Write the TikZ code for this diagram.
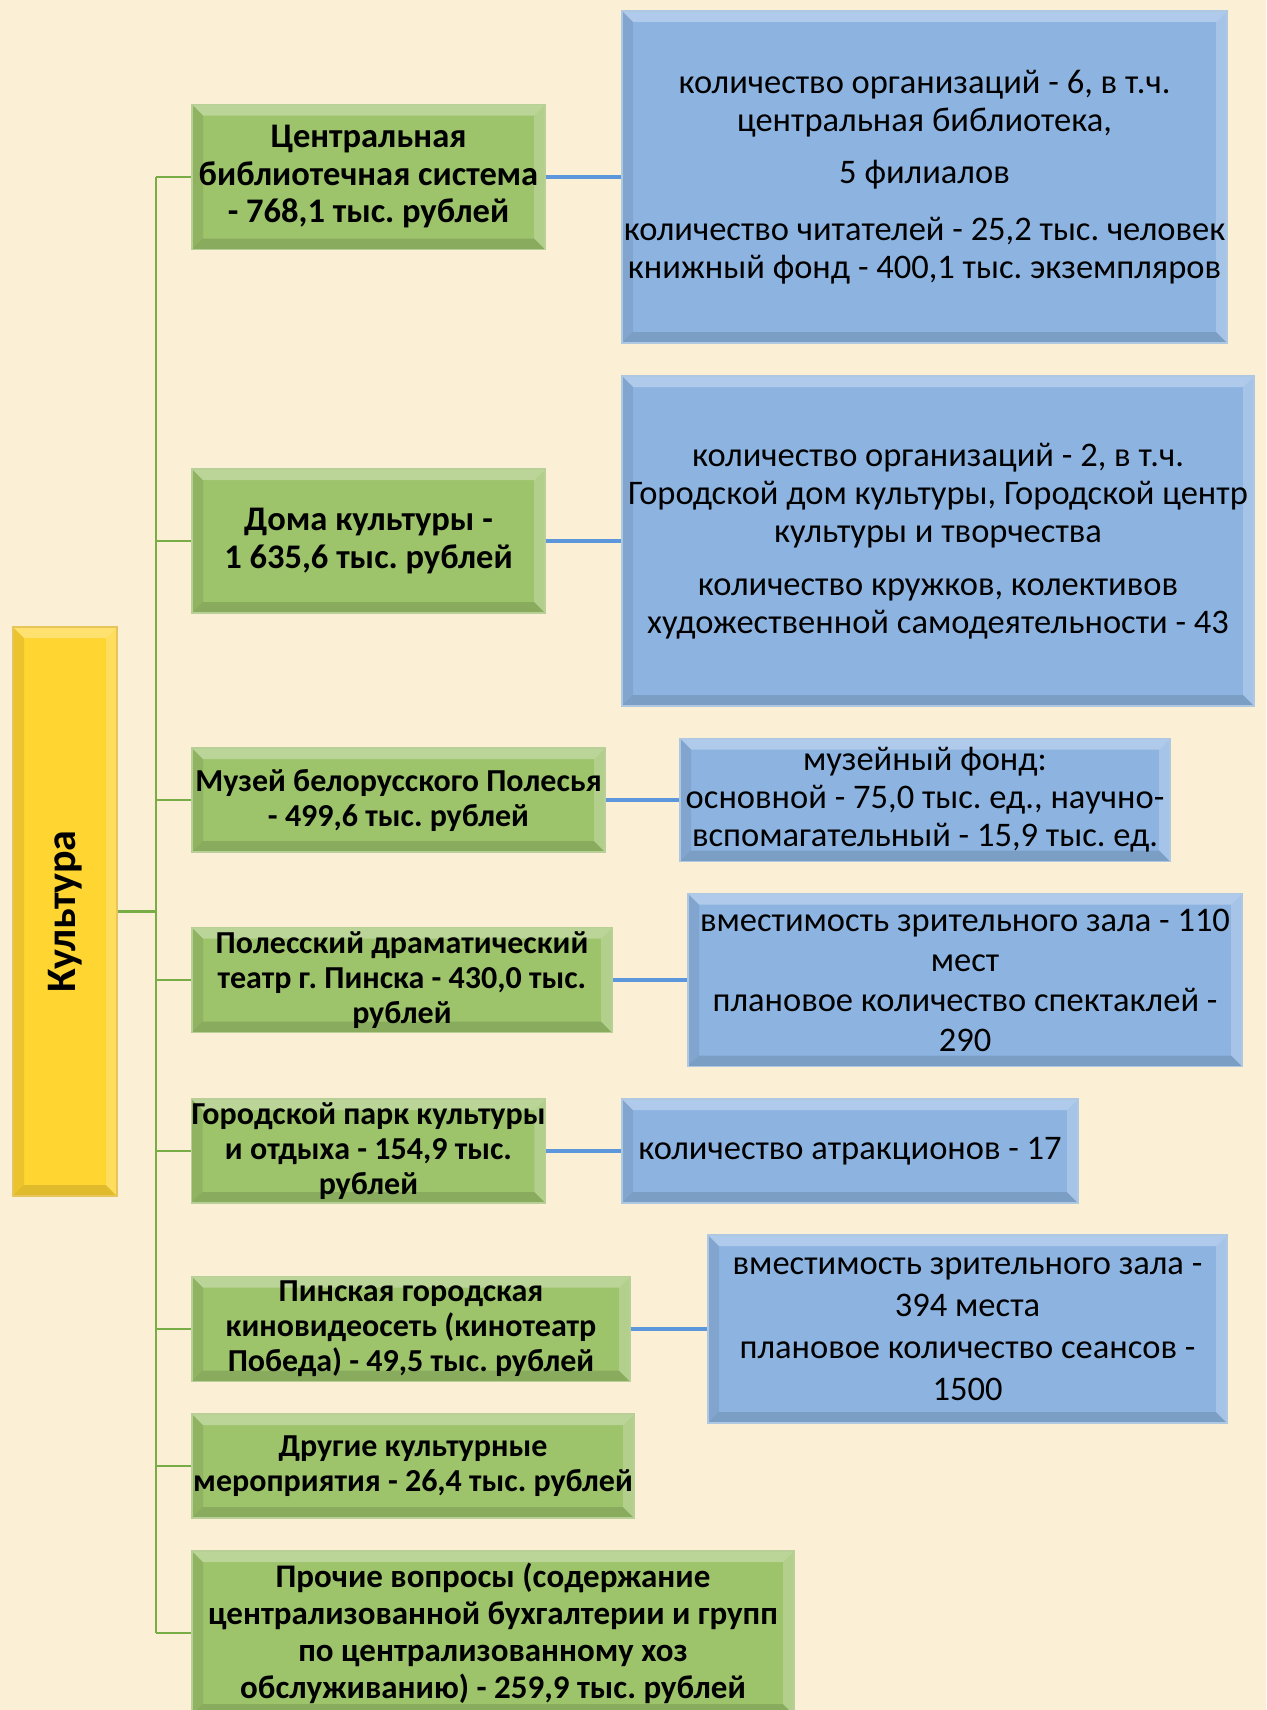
\documentclass[tikz,border=0pt]{standalone}
\usepackage{fontspec}
\setmainfont{Carlito}
\usepackage{xcolor}
\frenchspacing

\definecolor{bgcream}{HTML}{FBF0D6}
\definecolor{boxgreen}{HTML}{9DC36B}
\definecolor{rimgreen}{HTML}{B9CF98}
\definecolor{boxblue}{HTML}{8DB4E1}
\definecolor{rimblue}{HTML}{AFC8E2}
\definecolor{boxgold}{HTML}{FFD531}
\definecolor{rimgold}{HTML}{E8C55A}
\definecolor{linegreen}{HTML}{78AC44}
\definecolor{lineblue}{HTML}{5B97DA}

\tikzset{
  bevel/.style={path picture={
    \fill[white,opacity=.3] (path picture bounding box.north west) -- (path picture bounding box.north east)
      -- ([xshift=-11pt,yshift=-11pt]path picture bounding box.north east) -- ([xshift=11pt,yshift=-11pt]path picture bounding box.north west) -- cycle;
    \fill[white,opacity=.22] (path picture bounding box.north east) -- (path picture bounding box.south east)
      -- ([xshift=-11pt,yshift=11pt]path picture bounding box.south east) -- ([xshift=-11pt,yshift=-11pt]path picture bounding box.north east) -- cycle;
    \fill[black,opacity=.12] (path picture bounding box.south west) -- (path picture bounding box.south east)
      -- ([xshift=-11pt,yshift=11pt]path picture bounding box.south east) -- ([xshift=11pt,yshift=11pt]path picture bounding box.south west) -- cycle;
    \fill[black,opacity=.08] (path picture bounding box.north west) -- (path picture bounding box.south west)
      -- ([xshift=11pt,yshift=11pt]path picture bounding box.south west) -- ([xshift=11pt,yshift=-11pt]path picture bounding box.north west) -- cycle;
  }},
  box/.style={draw, line width=1.2pt, align=center, inner sep=0pt, bevel},
  gbox/.style={box, fill=boxgreen, draw=rimgreen, font=\bfseries\fontsize{32}{35}\selectfont},
  bbox/.style={box, fill=boxblue, draw=rimblue, font=\fontsize{34.5}{38}\selectfont},
  ybox/.style={box, fill=boxgold, draw=rimgold, font=\bfseries\fontsize{42}{44}\selectfont},
  gline/.style={draw=linegreen, line width=2.5pt},
  bline/.style={draw=lineblue, line width=3.5pt},
}

\begin{document}
\begin{tikzpicture}[x=1pt, y=-1pt]
\useasboundingbox (0,0) rectangle (1266,1710);
\fill[bgcream] (0,0) rectangle (1266,1710);

% root
\node[ybox, minimum width=104, minimum height=569] (kult) at (65,911.5) {\rotatebox{90}{Культура}};

% trunk
\coordinate (trunk top) at (156,177);
\coordinate (trunk bottom) at (156,1633);

% budget items
\node[gbox, minimum width=353, minimum height=145, font=\bfseries\fontsize{34.5}{37.5}\selectfont] (cbs) at (368.5,177)
  {Центральная\\библиотечная система\\- 768,1 тыс. рублей};
\node[gbox, minimum width=353, minimum height=144, font=\bfseries\fontsize{34.5}{38}\selectfont] (dk) at (368.5,541)
  {Дома культуры -\\1 635,6 тыс. рублей};
\node[gbox, minimum width=413, minimum height=104] (muz) at (398.5,800)
  {Музей белорусского Полесья\\- 499,6 тыс. рублей};
\node[gbox, minimum width=420, minimum height=105] (teatr) at (402,980)
  {Полесский драматический\\театр г. Пинска - 430,0 тыс.\\рублей};
\node[gbox, minimum width=353, minimum height=104] (park) at (368.5,1151)
  {Городской парк культуры\\и отдыха - 154,9 тыс.\\рублей};
\node[gbox, minimum width=438, minimum height=105] (kino) at (411,1329)
  {Пинская городская\\киновидеосеть (кинотеатр\\Победа) - 49,5 тыс. рублей};
\node[gbox, minimum width=442, minimum height=104] (drug) at (413,1466)
  {Другие культурные\\мероприятия - 26,4 тыс. рублей};
\node[gbox, minimum width=602, minimum height=164, font=\bfseries\fontsize{33}{37}\selectfont] (proch) at (493,1633)
  {Прочие вопросы (содержание\\централизованной бухгалтерии и групп\\по централизованному хоз\\обслуживанию) - 259,9 тыс. рублей};

% details
\node[bbox, minimum width=605, minimum height=332] (cbs info) at (924.5,177)
  {количество организаций - 6, в т.ч.\\центральная библиотека,\\[14pt]
   5 филиалов\\[19pt]
   количество читателей - 25,2 тыс. человек\\книжный фонд - 400,1 тыс. экземпляров};
\node[bbox, minimum width=632, minimum height=330] (dk info) at (938,541)
  {количество организаций - 2, в т.ч.\\Городской дом культуры, Городской центр\\культуры и творчества\\[15pt]
   количество кружков, колективов\\художественной самодеятельности - 43};
\node[bbox, minimum width=490, minimum height=123] (muz info) at (925,800)
  {музейный фонд:\\основной - 75,0 тыс. ед., научно-\\вспомагательный - 15,9 тыс. ед.};
\node[bbox, minimum width=554, minimum height=173, font=\fontsize{34.5}{40}\selectfont] (teatr info) at (965,980)
  {вместимость зрительного зала - 110\\мест\\плановое количество спектаклей -\\290};
\node[bbox, minimum width=456, minimum height=104] (park info) at (850,1151)
  {количество атракционов - 17};
\node[bbox, minimum width=519, minimum height=188, font=\fontsize{34.5}{42}\selectfont] (kino info) at (967.5,1329)
  {вместимость зрительного зала -\\394 места\\плановое количество сеансов -\\1500};

% connectors
\draw[gline] (trunk top) -- (trunk bottom);
\draw[gline] (kult.east) -- (kult.east -| trunk top);
\foreach \n in {cbs, dk, muz, teatr, park, kino, drug, proch}
  \draw[gline] (\n.west -| trunk top) -- (\n.west);
\foreach \n in {cbs, dk, muz, teatr, park, kino}
  \draw[bline] (\n.east) -- (\n.east -| \n\space info.west);
\end{tikzpicture}
\end{document}
